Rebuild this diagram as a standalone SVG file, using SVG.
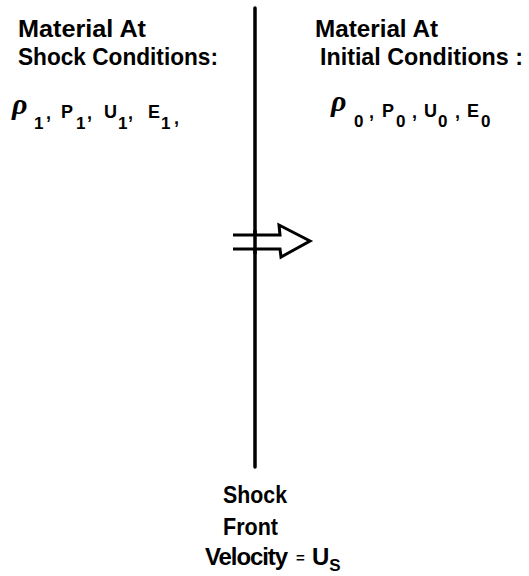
<svg xmlns="http://www.w3.org/2000/svg" width="529" height="576" viewBox="0 0 529 576">
<style>
.t{font-family:"Liberation Sans",Arial,sans-serif;font-weight:bold;fill:#000;font-size:24px}
.v{font-family:"Liberation Sans",Arial,sans-serif;font-weight:bold;fill:#000;font-size:18px}
.s{font-family:"Liberation Sans",Arial,sans-serif;font-weight:bold;fill:#000;font-size:17px}
.r{font-family:"Liberation Serif","Times New Roman",serif;font-weight:bold;font-style:italic;fill:#000;font-size:30px}
.ln{stroke:#000;stroke-width:3.5;fill:none;stroke-linecap:round}
.ar{stroke:#000;stroke-width:3;fill:#fff;stroke-linejoin:miter}
</style>
<rect width="529" height="576" fill="#fff"/>
<g id="connectors">
<line class="ln" x1="255" y1="8" x2="255" y2="467"/>
<path class="ar" d="M233,235 L280,235 L279,225 L310,241 L281,257 L280,249 L233,249"/>
<line x1="255" y1="230" x2="255" y2="254" stroke="#000" stroke-width="3.5"/>
</g>
<g id="shock-conditions">
<text class="t" x="18" y="37" textLength="128" lengthAdjust="spacingAndGlyphs">Material At</text>
<text class="t" x="18" y="65" textLength="200" lengthAdjust="spacingAndGlyphs">Shock Conditions:</text>
<text class="r" x="12" y="114">ρ</text>
<text class="s" x="34" y="129">1</text>
<text class="v" x="46" y="119">,</text>
<text class="v" x="61" y="118">P</text>
<text class="s" x="76" y="129">1</text>
<text class="v" x="87" y="119">,</text>
<text class="v" x="104" y="118">U</text>
<text class="s" x="118" y="129">1</text>
<text class="v" x="128" y="119">,</text>
<text class="v" x="148" y="118">E</text>
<text class="s" x="161" y="129">1</text>
<text class="v" x="174" y="124">,</text>
</g>
<g id="initial-conditions">
<text class="t" x="315" y="37" textLength="123" lengthAdjust="spacingAndGlyphs">Material At</text>
<text class="t" x="320" y="65" textLength="203" lengthAdjust="spacingAndGlyphs">Initial Conditions :</text>
<text class="r" x="331" y="111">ρ</text>
<text class="s" x="354" y="127">0</text>
<text class="v" x="369" y="118">,</text>
<text class="v" x="382" y="117">P</text>
<text class="s" x="396" y="127">0</text>
<text class="v" x="412" y="118">,</text>
<text class="v" x="424" y="117">U</text>
<text class="s" x="438" y="127">0</text>
<text class="v" x="455" y="118">,</text>
<text class="v" x="467" y="117">E</text>
<text class="s" x="481" y="127">0</text>
</g>
<g id="shock-front">
<text class="t" x="223" y="503" textLength="64" lengthAdjust="spacingAndGlyphs">Shock</text>
<text class="t" x="223" y="535" textLength="55" lengthAdjust="spacingAndGlyphs">Front</text>
<text class="t" x="205" y="565" letter-spacing="-1.1">Velocity<tspan x="296" y="563" font-size="15px" letter-spacing="0">=</tspan><tspan x="312" y="565" letter-spacing="0">U</tspan><tspan y="571" font-size="17px" letter-spacing="0">S</tspan></text>
</g>
</svg>
